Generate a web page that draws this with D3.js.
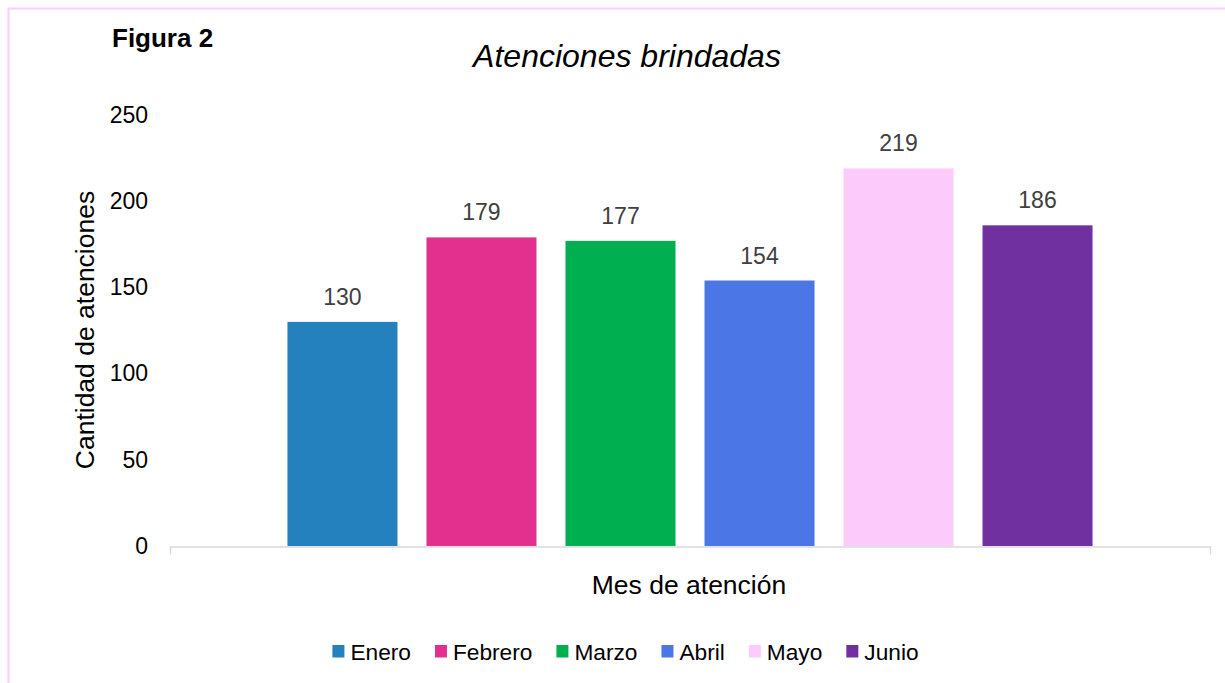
<!DOCTYPE html>
<html>
<head>
<meta charset="utf-8">
<script src="https://cdn.jsdelivr.net/npm/d3@7"></script>
<style>
  body { margin: 0; background: #ffffff; }
  text { font-family: "Liberation Sans", Arial, sans-serif; }
</style>
</head>
<body>
<svg id="canvas"></svg>
<script>
// Chart data.
var months = ['Enero', 'Febrero', 'Marzo', 'Abril', 'Mayo', 'Junio'];
var attentions = [130, 179, 177, 154, 219, 186];
var monthColours = ['#2580BE', '#E3308F', '#00B050', '#4A77E5', '#FCCBFC', '#7030A0'];
var yTicks = [0, 50, 100, 150, 200, 250];

// Canvas settings.
var canvas = {
  w: 1225,
  h: 683,
  plot: { left: 170, right: 1210, top: 115, bottom: 546 }
};

var svg = d3.select('#canvas')
            .attr('width', canvas.w)
            .attr('height', canvas.h);

// Pink frame round the chart.
svg.append('rect')
   .attr('x', 8.5)
   .attr('y', 8.5)
   .attr('width', 1240)
   .attr('height', 700)
   .attr('fill', 'none')
   .attr('stroke', '#FFCCFF')
   .attr('stroke-width', 2);

// Scales.
var x = d3.scaleBand()
          .domain(months)
          .range([canvas.plot.left, canvas.plot.right])
          .paddingInner(0.2086)
          .paddingOuter(0.845);

var y = d3.scaleLinear()
          .domain([0, 250])
          .range([canvas.plot.bottom, canvas.plot.top]);

// Single category axis along the bottom.
var category = d3.scaleBand()
                 .domain([''])
                 .range([canvas.plot.left, canvas.plot.right]);

var xAxis = svg.append('g')
               .attr('transform', 'translate(0,' + (canvas.plot.bottom + 0.5) + ')')
               .call(d3.axisBottom(category).tickValues([]).tickSizeOuter(8));
xAxis.select('.domain')
     .attr('stroke', '#D9D9D9')
     .attr('stroke-width', 1.5);

// Value axis labels only.
var yAxis = svg.append('g')
               .attr('transform', 'translate(' + canvas.plot.left + ',0)')
               .call(d3.axisLeft(y).tickValues(yTicks).tickSize(0).tickPadding(22));
yAxis.select('.domain').remove();
yAxis.selectAll('text')
     .attr('font-size', '23px')
     .attr('font-family', '"Liberation Sans", Arial, sans-serif')
     .attr('fill', '#000000');

// Bars.
svg.append('g')
   .selectAll('rect')
   .data(months)
   .enter()
   .append('rect')
   .attr('x', function(d) { return x(d); })
   .attr('y', function(d, i) { return y(attentions[i]); })
   .attr('width', x.bandwidth())
   .attr('height', function(d, i) { return y(0) - y(attentions[i]); })
   .attr('fill', function(d, i) { return monthColours[i]; });

// Value labels.
svg.append('g')
   .selectAll('text')
   .data(months)
   .enter()
   .append('text')
   .attr('x', function(d) { return x(d) + x.bandwidth() / 2; })
   .attr('y', function(d, i) { return y(attentions[i]) - 17; })
   .attr('text-anchor', 'middle')
   .attr('font-size', '23px')
   .attr('fill', '#404040')
   .text(function(d, i) { return attentions[i]; });

// Titles.
svg.append('text')
   .attr('x', 112)
   .attr('y', 47)
   .attr('font-size', '26px')
   .attr('font-weight', 'bold')
   .attr('fill', '#000000')
   .text('Figura 2');

svg.append('text')
   .attr('x', 627)
   .attr('y', 67)
   .attr('text-anchor', 'middle')
   .attr('font-size', '32px')
   .attr('font-style', 'italic')
   .attr('fill', '#000000')
   .text('Atenciones brindadas');

svg.append('text')
   .attr('transform', 'translate(94,330) rotate(-90)')
   .attr('text-anchor', 'middle')
   .attr('font-size', '26.5px')
   .attr('fill', '#000000')
   .text('Cantidad de atenciones');

svg.append('text')
   .attr('x', 689)
   .attr('y', 594)
   .attr('text-anchor', 'middle')
   .attr('font-size', '26.5px')
   .attr('fill', '#000000')
   .text('Mes de atención');

// Legend, laid out from measured text widths and centred.
var legend = svg.append('g');
var items = legend.selectAll('g')
                  .data(months)
                  .enter()
                  .append('g');

items.append('rect')
     .attr('width', 12)
     .attr('height', 12.5)
     .attr('y', -14.5)
     .attr('fill', function(d, i) { return monthColours[i]; });

items.append('text')
     .attr('x', 18)
     .attr('font-size', '22.7px')
     .attr('fill', '#000000')
     .text(function(d) { return d; });

var offset = 0;
items.each(function() {
  var g = d3.select(this);
  g.attr('transform', 'translate(' + offset + ',0)');
  offset += 18 + g.select('text').node().getComputedTextLength() + 24;
});
offset -= 24;
legend.attr('transform', 'translate(' + (625.5 - offset / 2) + ',659.5)');
</script>
</body>
</html>
